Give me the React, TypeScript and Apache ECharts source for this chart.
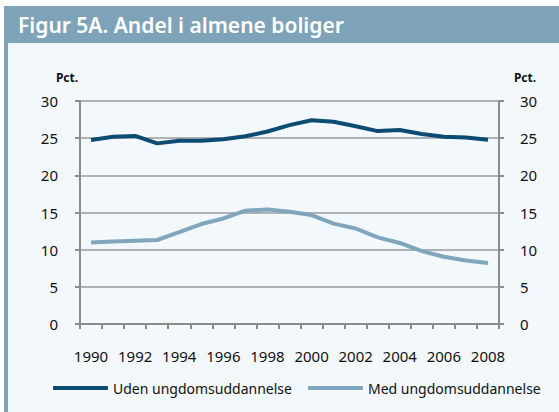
import React, { useEffect, useRef } from "react";
import * as echarts from "echarts";

const years = ["1990","1991","1992","1993","1994","1995","1996","1997","1998","1999","2000","2001","2002","2003","2004","2005","2006","2007","2008"];
const udenUngdom = [24.75, 25.2, 25.3, 24.3, 24.65, 24.65, 24.85, 25.25, 25.9, 26.75, 27.4, 27.2, 26.6, 25.95, 26.1, 25.55, 25.2, 25.1, 24.8];
const medUngdom = [10.95, 11.1, 11.2, 11.3, 12.35, 13.45, 14.2, 15.25, 15.4, 15.1, 14.65, 13.5, 12.85, 11.65, 10.9, 9.8, 9.05, 8.55, 8.2];
const seriesNames = ["Uden ungdomsuddannelse", "Med ungdomsuddannelse"];
const yTicks = { min: 0, max: 30, interval: 5 };
const titleText = "Figur 5A. Andel i almene boliger";
const unitLabel = "Pct.";

const FONT = "'Noto Sans', 'Open Sans', sans-serif";

export default function App() {
  const ref = useRef<HTMLDivElement>(null);
  useEffect(() => {
    document.body.style.margin = "0";
    const chart = echarts.init(ref.current!, null, { renderer: "svg" });
    const axisGray = "#8c8c8c";
    chart.setOption({
      animation: false,
      backgroundColor: "#ffffff",
      textStyle: { fontFamily: FONT },
      graphic: [
        { type: "rect", z: -10, shape: { x: 4, y: 6, width: 555, height: 37 }, style: { fill: "#7ea3b9" } },
        { type: "rect", z: -10, shape: { x: 4, y: 43, width: 4, height: 369 }, style: { fill: "#7ea3b9" } },
        { type: "rect", z: -10, shape: { x: 8, y: 43, width: 551, height: 369 }, style: { fill: "#f3f8fc" } },
        { type: "text", x: 18, y: 25, style: { text: titleText, fill: "#ffffff", font: `600 21px ${FONT}`, textVerticalAlign: "middle" } },
        { type: "text", x: 67, y: 77, style: { text: unitLabel, fill: "#111", font: `bold 12px ${FONT}`, textAlign: "center", textVerticalAlign: "middle" } },
        { type: "text", x: 525, y: 77, style: { text: unitLabel, fill: "#111", font: `bold 12px ${FONT}`, textAlign: "center", textVerticalAlign: "middle" } },
      ],
      grid: { left: 80, right: 60, top: 101, bottom: 88 },
      legend: {
        left: 53,
        top: 381,
        width: 500,
        padding: 0,
        orient: "horizontal",
        itemWidth: 55,
        itemHeight: 4,
        itemGap: 16,
        icon: "roundRect",
        textStyle: { fontSize: 14, color: "#111", fontFamily: FONT },
        data: seriesNames,
      },
      xAxis: {
        type: "category",
        data: years,
        boundaryGap: true,
        axisLine: { lineStyle: { color: axisGray, width: 2 } },
        axisTick: { show: true, interval: 0, length: 5, lineStyle: { color: axisGray, width: 2 } },
        axisLabel: { interval: 1, margin: 24, fontSize: 15, color: "#111", fontFamily: FONT },
        splitLine: { show: false },
      },
      yAxis: [
        {
          type: "value",
          min: yTicks.min,
          max: yTicks.max,
          interval: yTicks.interval,
          position: "left",
          axisLine: { show: true, lineStyle: { color: axisGray, width: 2 } },
          axisTick: { show: true, length: 5, lineStyle: { color: axisGray, width: 2 } },
          axisLabel: { margin: 22, fontSize: 15, color: "#111", fontFamily: FONT },
          splitLine: { show: true, lineStyle: { color: "#9a9a9a", width: 1.5 } },
        },
        {
          type: "value",
          min: yTicks.min,
          max: yTicks.max,
          interval: yTicks.interval,
          position: "right",
          axisLine: { show: true, lineStyle: { color: axisGray, width: 2 } },
          axisTick: { show: true, length: 5, lineStyle: { color: axisGray, width: 2 } },
          axisLabel: { margin: 21, fontSize: 15, color: "#111", fontFamily: FONT },
          splitLine: { show: false },
        },
      ],
      series: [
        {
          name: seriesNames[0],
          type: "line",
          data: udenUngdom,
          showSymbol: false,
          symbol: "none",
          lineStyle: { color: "#0c4b73", width: 4 },
          itemStyle: { color: "#0c4b73" },
        },
        {
          name: seriesNames[1],
          type: "line",
          data: medUngdom,
          showSymbol: false,
          symbol: "none",
          lineStyle: { color: "#7fa6bd", width: 4 },
          itemStyle: { color: "#7fa6bd" },
        },
      ],
    });
    return () => chart.dispose();
  }, []);
  return <div ref={ref} style={{ width: 559, height: 412 }} />;
}
